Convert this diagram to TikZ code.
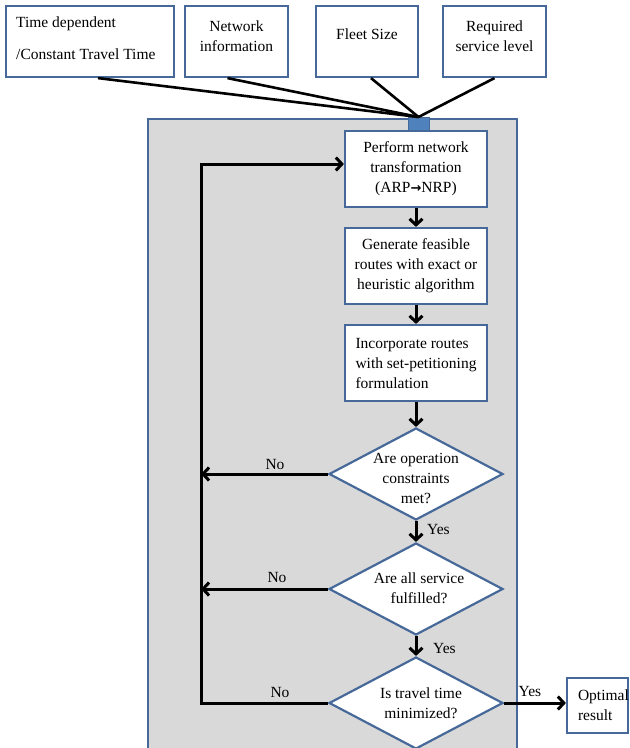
\documentclass[tikz,border=0pt]{standalone}
\usepackage{fontspec}
\setmainfont{Liberation Serif}
\newfontfamily\arrowfont{DejaVu Sans}
\usetikzlibrary{arrows.meta,shapes.geometric,calc}
\definecolor{bordc}{HTML}{46699A}
\definecolor{grayc}{HTML}{D9D9D9}
\definecolor{connc}{HTML}{4F81BD}
\begin{document}
\begin{tikzpicture}[x=1pt,y=-1pt,
  txt/.style={font=\fontsize{15.5}{20}\selectfont, inner sep=0pt, align=center},
  inbox/.style={draw=bordc, line width=2.2pt, fill=white, inner sep=0pt, minimum height=71pt},
  flowbox/.style={draw=bordc, line width=2.2pt, fill=white, minimum width=142pt, minimum height=76pt,
    inner sep=0pt, align=center, font=\fontsize{15.5}{20}\selectfont},
  dia/.style={diamond, draw=bordc, line width=2.2pt, fill=white, minimum width=174pt, minimum height=92pt, inner sep=0pt},
  flow/.style={line width=3pt, -{Straight Barb[length=6pt,width=13pt]}},
  feed/.style={line width=2.6pt}]
\useasboundingbox (0,0) rectangle (630,748);
\clip (0,0) rectangle (630,748);
\fill[white] (0,0) rectangle (630,748);

% input boxes
\node[inbox, minimum width=168pt] (b1) at (90,41.5) {};
\node[inbox, minimum width=103pt] (b2) at (236.5,41.5) {};
\node[inbox, minimum width=102pt] (b3) at (367,41.5) {};
\node[inbox, minimum width=103pt] (b4) at (494.5,41.5) {};
\node[txt, anchor=west, align=left] (b1t) at (16,38) {Time dependent\\[12pt]/Constant Travel Time};
\node[txt] (b2t) at (236.5,36) {Network\\information};
\node[txt] (b3t) at (367,34) {Fleet Size};
\node[txt] (b4t) at (494.5,36) {Required\\service level};

% container
\node[draw=bordc, line width=2.2pt, fill=grayc, minimum width=369pt, minimum height=660pt,
  anchor=north west, inner sep=0pt] (frame) at (147,118) {};
\node[draw=bordc, fill=connc, line width=1pt, minimum width=21pt, minimum height=13pt, inner sep=0pt] (conn) at (418.5,124) {};

% feed lines
\draw[feed] ($(b1.south)+(8,0)$) -- (conn.north);
\draw[feed] ($(b2.south)+(-9,0)$) -- (conn.north);
\draw[feed] ($(b3.south)+(4,0)$) -- (conn.north);
\draw[feed] (b4.south) -- (conn.north);

% process boxes
\node[flowbox] (p1) at (416,169) {Perform network\\transformation\\(ARP{\arrowfont\bfseries\fontsize{13}{13}\selectfont →}NRP)};
\node[flowbox] (p2) at (416,266) {Generate feasible\\routes with exact or\\heuristic algorithm};
\node[flowbox, align=left] (p3) at (416,363) {Incorporate routes\\with set-petitioning\\formulation};

% decisions
\node[dia] (d1) at (416,474) {};
\node[txt] (d1t) at (416,478) {Are operation\\constraints\\met?};
\node[dia] (d2) at (416,589) {};
\node[txt] (d2t) at (419,588.5) {Are all service\\fulfilled?};
\node[dia] (d3) at (416,703) {};
\node[txt] (d3t) at (421,703) {Is travel time\\minimized?};

% result
\node[draw=bordc, line width=2.2pt, fill=white, minimum width=61pt, minimum height=55pt, inner sep=0pt,
  text width=39pt, align=left, font=\fontsize{15.5}{20}\selectfont] (opt) at (597.5,705.5) {Optimal\\result};

% flow arrows
\draw[flow] (p1) -- (p2);
\draw[flow] (p2) -- (p3);
\draw[flow] (p3) -- (d1);
\draw[flow] (d1) -- (d2);
\draw[flow] (d2) -- (d3);
\coordinate (lp) at (201,703);
\draw[flow] (d3.west) -- (lp) |- ($(p1.west)+(0,-5)$);
\draw[flow] (d1.west) -- (d1.west -| lp);
\draw[flow] (d2.west) -- (d2.west -| lp);
\draw[flow] (d3.east) -- (d3.east -| opt.west);

% labels
\node[txt] (no1) at (275,464) {No};
\node[txt] (no2) at (277,577) {No};
\node[txt] (no3) at (280,692) {No};
\node[txt, anchor=west] (yes1) at (427,529) {Yes};
\node[txt, anchor=west] (yes2) at (433,648) {Yes};
\node[txt] (yes3) at (530,691) {Yes};
\end{tikzpicture}
\end{document}
